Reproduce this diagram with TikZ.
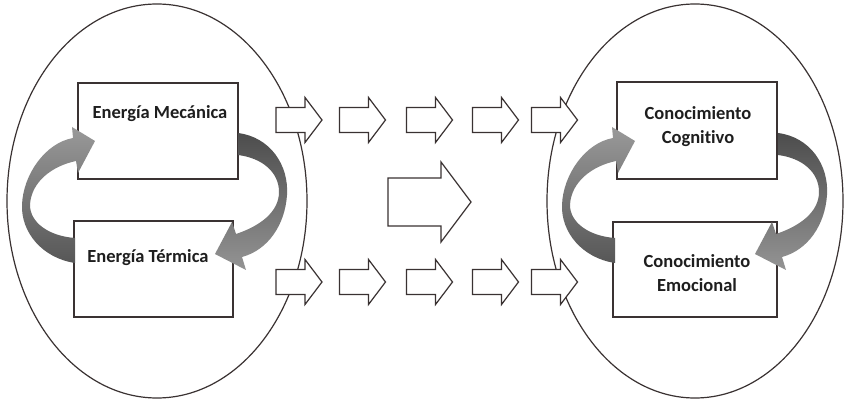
\documentclass[tikz,border=0pt]{standalone}
\usepackage{fontspec}
\setmainfont{Carlito}[Ligatures=NoCommon]
\usetikzlibrary{shapes.geometric}
\definecolor{edge}{HTML}{3A3232}
\definecolor{txt}{HTML}{1E1E1E}
\tikzset{
  outline/.style={draw=edge, line width=1.2pt},
  oval/.style={outline, ellipse, inner sep=0pt},
  box/.style={outline, fill=white, rectangle, inner sep=0pt},
  lbl/.style={font=\fontsize{18.5}{24}\selectfont\bfseries, text=txt, align=center, inner sep=0pt},
  blk/.style={draw=edge, line width=1.2pt, fill=white, line join=miter},
  twistL/.style={top color=black!40, bottom color=black!66, draw=none},
  twistR/.style={top color=black!70, bottom color=black!42, draw=none},
  smallarrow/.pic={\path[blk] (-23,-12.5) -- (6,-12.5) -- (6,-22.5) -- (23,0) -- (6,22.5) -- (6,12.5) -- (-23,12.5) -- cycle;}
}
\newcommand\cyclearrows{%
  \path[twistL] (75,263) .. controls (42,258) and (21,232) .. (22,205)
     .. controls (23,175) and (45,143) .. (73,138) -- (72,127) -- (95,141) -- (78,173) -- (76,161)
     .. controls (52,166) and (31,182) .. (30,205) .. controls (30,222) and (48,236) .. (75,238) -- cycle;
  \path[twistR] (238,133) .. controls (270,137) and (289,165) .. (287,195)
     .. controls (285,225) and (268,250) .. (242,257) -- (246,270) -- (215,254) -- (232,222) -- (236,234)
     .. controls (260,226) and (279,212) .. (279,192) .. controls (279,172) and (262,158) .. (238,155) -- cycle;
}
\begin{document}
\begin{tikzpicture}[x=1pt,y=-1pt]
\useasboundingbox[fill=white] (0,0) rectangle (844,406);
% ovals
\node[oval, minimum width=300pt, minimum height=394pt] (leftE) at (157,201) {};
\node[oval, minimum width=296pt, minimum height=394pt] (rightE) at (695,201) {};
% boxes
\node[box, minimum width=160pt, minimum height=96pt] (mec) at (158,131) {};
\node[box, minimum width=159pt, minimum height=96pt] (ter) at (153.5,269) {};
\node[box, minimum width=160pt, minimum height=97pt] (cog) at (697,130.5) {};
\node[box, minimum width=164pt, minimum height=95pt] (emo) at (695,269.5) {};
% labels
\node[lbl] (mecT) at (160,114) {Energía Mecánica};
\node[lbl] (terT) at (148,258) {Energía Térmica};
\node[lbl] (cogT) at (698,127) {Conocimiento\\Cognitivo};
\node[lbl] (emoT) at (697,273) {Conocimiento\\Emocional};
% curved cycle arrows
\cyclearrows
\begin{scope}[shift={(540,0)}]
\cyclearrows
\end{scope}
% block arrows
\foreach \xx in {299,362.5,429.5,495.5,554.5}{
  \pic at (\xx,120) {smallarrow};
  \pic at (\xx,282) {smallarrow};
}
\path[blk] (388,178) -- (441,178) -- (441,162) -- (471,202) -- (441,242) -- (441,226) -- (388,226) -- cycle;
\end{tikzpicture}
\end{document}
